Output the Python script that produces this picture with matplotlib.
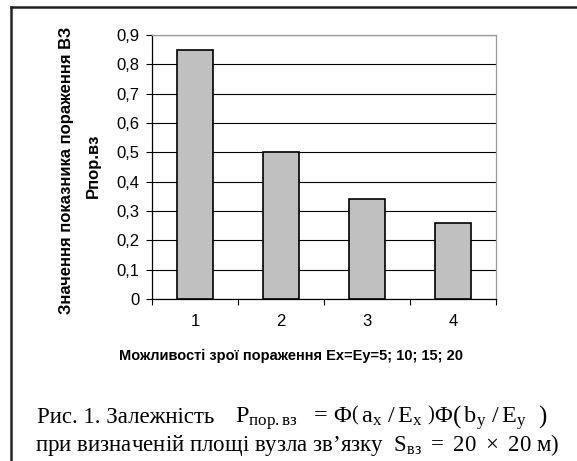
import matplotlib
matplotlib.use("Agg")
import matplotlib.pyplot as plt
from matplotlib.lines import Line2D

categories = ["1", "2", "3", "4"]
values = [0.85, 0.50, 0.34, 0.26]
yticks = [0, 0.1, 0.2, 0.3, 0.4, 0.5, 0.6, 0.7, 0.8, 0.9]
ytick_labels = ["0", "0,1", "0,2", "0,3", "0,4", "0,5", "0,6", "0,7", "0,8", "0,9"]
ylabel_line1 = "Значення показника пораження ВЗ"
ylabel_line2 = "Рпор.вз"
xlabel = "Можливості зрої пораження Ex=Ey=5; 10; 15; 20"

plt.rcParams['mathtext.fontset'] = 'custom'
plt.rcParams['mathtext.rm'] = 'Liberation Serif'
plt.rcParams['mathtext.it'] = 'Liberation Serif'
plt.rcParams['mathtext.bf'] = 'Liberation Serif:bold'

W, H = 577, 461
fig = plt.figure(figsize=(W / 100, H / 100), dpi=100)

# plot area pixels: left 152, right 496, top 35, bottom 299
ax = fig.add_axes([152 / W, 1 - 299 / H, (496 - 152) / W, (299 - 35) / H])
x = list(range(len(categories)))
ax.bar(x, values, width=0.43, color="#c0c0c0", edgecolor="black", linewidth=1.2, zorder=3)
ax.set_xlim(-0.5, len(categories) - 0.5)
ax.set_ylim(0, 0.9)
ax.set_yticks(yticks)
ax.set_yticklabels(ytick_labels, fontname="Liberation Sans", fontsize=12)
ax.yaxis.grid(True, color="black", linewidth=0.8, zorder=0)
ax.set_axisbelow(True)
ax.set_xticks([i - 0.5 for i in range(len(categories) + 1)])
ax.set_xticklabels([])
ax.set_xticks(x, minor=True)
ax.set_xticklabels(categories, minor=True, fontname="Liberation Sans", fontsize=12)
ax.tick_params(axis="x", which="minor", length=0, pad=11)
ax.tick_params(axis="x", which="major", length=4, direction="out", width=0.8)
ax.tick_params(axis="y", length=4, direction="out", width=0.8, pad=5)
ax.spines["left"].set_color("black")
ax.spines["bottom"].set_color("black")
ax.spines["top"].set_color("#999999")
ax.spines["right"].set_color("#999999")
for s in ax.spines.values():
    s.set_linewidth(0.9)

# y labels
fig.text(67 / W, 1 - 170 / H, ylabel_line1, rotation=90, ha="center", va="center",
         fontname="Liberation Sans", fontweight="bold", fontsize=12)
fig.text(93 / W, 1 - 166 / H, ylabel_line2, rotation=90, ha="center", va="center",
         fontname="Liberation Sans", fontweight="bold", fontsize=12)

# x label
fig.text(291 / W, 1 - 356 / H, xlabel, ha="center", va="center",
         fontname="Liberation Sans", fontweight="bold", fontsize=10.5)

# caption
cap1_text = "Рис. 1. Залежність"
cap1_formula = (r"$\mathrm{P}_{\mathrm{пор{.}вз}}\ \ =\,\Phi\left(\,\mathrm{a}_{\mathrm{x}}\ /\,"
                r"\mathrm{E}_{\mathrm{x}}\ \right)\Phi\left(\,\mathrm{b}_{\mathrm{y}}\ /\,"
                r"\mathrm{E}_{\mathrm{y}}\ \ \right)$")
cap2 = r"при визначеній площі вузла зв’язку  $\mathrm{S}_{\mathrm{вз}}\ =\ 20\ \times\ 20$ м)"
fig.text(37 / W, 1 - 423 / H, cap1_text, ha="left", va="baseline",
         fontname="Liberation Serif", fontsize=16.5)
fig.text(235 / W, 1 - 423 / H, cap1_formula, ha="left", va="baseline",
         fontname="Liberation Serif", fontsize=17.5)
fig.text(297 / W, 1 - 451 / H, cap2, ha="center", va="baseline",
         fontname="Liberation Serif", fontsize=16.5)

# outer frame (left and top lines)
fig.add_artist(Line2D([11.5 / W, 11.5 / W], [0, 1 - 7 / H], transform=fig.transFigure,
                      color="#222222", linewidth=1.8))
fig.add_artist(Line2D([11.5 / W, 1], [1 - 7 / H, 1 - 7 / H], transform=fig.transFigure,
                      color="#222222", linewidth=1.8))

fig.savefig("out.png", dpi=100)
